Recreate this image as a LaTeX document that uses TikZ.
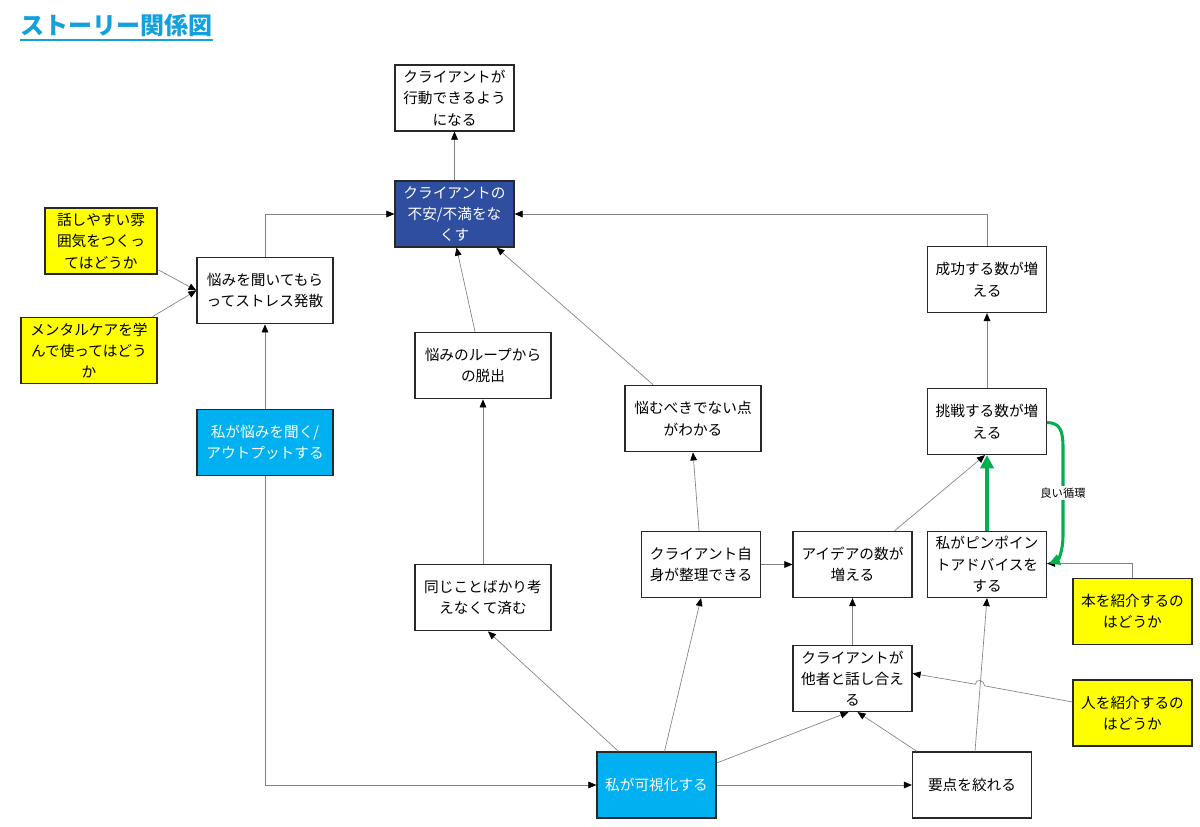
\documentclass[tikz,border=0pt]{standalone}
\usepackage{fontspec}
\setmainfont{Noto Sans CJK JP}
\usetikzlibrary{arrows.meta,calc}
\definecolor{titleblue}{RGB}{20,160,222}
\definecolor{darkblue}{RGB}{47,78,160}
\definecolor{lightblue}{RGB}{0,176,240}
\definecolor{noteyellow}{RGB}{255,255,0}
\definecolor{boxline}{RGB}{40,40,40}
\definecolor{conn}{RGB}{130,130,130}
\definecolor{cycle}{RGB}{0,176,80}
\begin{document}
\begin{tikzpicture}[x=0.75pt,y=-0.75pt,
  box/.style={draw=boxline,line width=0.9pt,fill=white,align=center,inner sep=1pt,
    font=\fontsize{11}{16}\selectfont,minimum width=89.25pt,minimum height=49.5pt},
  wide/.style={minimum width=102pt,minimum height=50pt},
  note/.style={box,fill=noteyellow},
  keyd/.style={box,fill=darkblue,text=white},
  keyl/.style={box,fill=lightblue,text=white},
  arr/.style={draw=conn,line width=0.5pt,-{Triangle[length=6pt,width=5pt,fill=black,color=black]}},
  grn/.style={draw=cycle,line width=2.3pt,-{Triangle[length=10pt,width=10pt]}},
  grc/.style={draw=cycle,line width=2.3pt,-{Triangle[length=8pt,width=8pt]}},
  lbl/.style={fill=white,inner sep=1pt,font=\fontsize{8.5}{10}\selectfont}]
\path[use as bounding box] (0,0) rectangle (1200,827);
\fill[white] (0,0) rectangle (1200,827);

% title
\node[font=\fontsize{18}{20}\selectfont\bfseries,text=titleblue,anchor=west,inner sep=0] (title) at (20,25) {ストーリー関係図};
\draw[titleblue,line width=1.5pt] ($(title.south west)+(0,3)$) -- ($(title.south east)+(0,3)$);

% nodes
\node[box] (A) at (454.5,98) {クライアントが\\行動できるよう\\になる};
\node[keyd] (B) at (454.5,214) {クライアントの\\不安/不満をな\\くす};
\node[note,minimum width=84pt] (C) at (101,241) {話しやすい雰\\囲気をつくっ\\てはどうか};
\node[box,wide] (D) at (265,290.5) {悩みを聞いてもら\\ってストレス発散};
\node[note,wide] (E) at (89,350.5) {メンタルケアを学\\んで使ってはどう\\か};
\node[keyl,wide] (F) at (265,442.5) {私が悩みを聞く/\\アウトプットする};
\node[box,wide] (G) at (483,365.5) {悩みのループから\\の脱出};
\node[box,wide] (H) at (693,418.5) {悩むべきでない点\\がわかる};
\node[box,wide] (I) at (483,597.5) {同じことばかり考\\えなくて済む};
\node[box] (J) at (701,564.5) {クライアント自\\身が整理できる};
\node[box] (K) at (852.5,564.5) {アイデアの数が\\増える};
\node[box] (L) at (987,564.5) {私がピンポイン\\トアドバイスを\\する};
\node[box] (M) at (987,279.5) {成功する数が増\\える};
\node[box] (N) at (987,421.5) {挑戦する数が増\\える};
\node[note] (O) at (1132.5,611.5) {本を紹介するの\\はどうか};
\node[box] (P) at (852.5,678.5) {クライアントが\\他者と話し合え\\る};
\node[note] (Q) at (1132.5,713) {人を紹介するの\\はどうか};
\node[keyl] (R) at (656.5,785) {私が可視化する};
\node[box] (S) at (972,785) {要点を絞れる};

% connectors
\draw[arr] (B.north) -- (A.south);
\draw[arr] (D.north) |- (B.west);
\draw[arr] (M.north) |- (B.east);
\draw[arr] ($(C.east)+(1,29)$) -- (D.west);
\draw[arr] ($(E.north east)+(-5,0)$) -- (D.west);
\draw[arr] (F.north) -- (D.south);
\draw[arr] (F.south) |- (R.west);
\draw[arr] ($(G.north)+(-8,0)$) -- ($(B.south)+(2,0)$);
\draw[arr] ($(H.north)+(-40,0)$) -- ($(B.south)+(42,0)$);
\draw[arr] (I.north) -- (G.south);
\draw[arr] ($(R.north)+(-38,0)$) -- ($(I.south)+(5,0)$);
\draw[arr] ($(R.north)+(8,0)$) -- (J.south);
\draw[arr] ($(J.north)+(-2,0)$) -- (H.south);
\draw[arr] (J.east) -- (K.west);
\draw[arr] ($(K.north)+(42,0)$) -- ($(N.south)+(-2,0)$);
\draw[arr] (P.north) -- (K.south);
\draw[arr] ($(R.east)+(0,-22)$) -- ($(P.south)+(-4,0)$);
\draw[arr] ($(S.north)+(-55,0)$) -- ($(P.south)+(5,0)$);
\draw[arr] ($(S.north)+(3,0)$) -- (L.south);
\coordinate (hop) at (980,685);
\coordinate (qs) at ($(Q.west)+(0,-11)$);
\coordinate (pe) at ($(P.east)+(0,-5)$);
\draw[arr] (qs) -- ($(hop)!3.5pt!(qs)$)
  .. controls +(0,-6) and +(0,-6) .. ($(hop)!3.5pt!(pe)$) -- (pe);
\draw[arr] (O.north) |- ($(L.east)+(0,-1)$);
\draw[arr] (N.north) -- (M.south);
\draw[arr] (R.east) -- (S.west);

% good cycle
\draw[grn] (L.north) -- (N.south);
\draw[grc] ($(N.east)+(0,1)$) .. controls (1060,423) and (1063,430) .. (1063,448)
  -- (1063,535) .. controls (1063,552) and (1058,560) .. ($(L.east)+(2,-1)$);
\node[lbl] (cyc) at (1063,493) {良い循環};
\end{tikzpicture}
\end{document}
